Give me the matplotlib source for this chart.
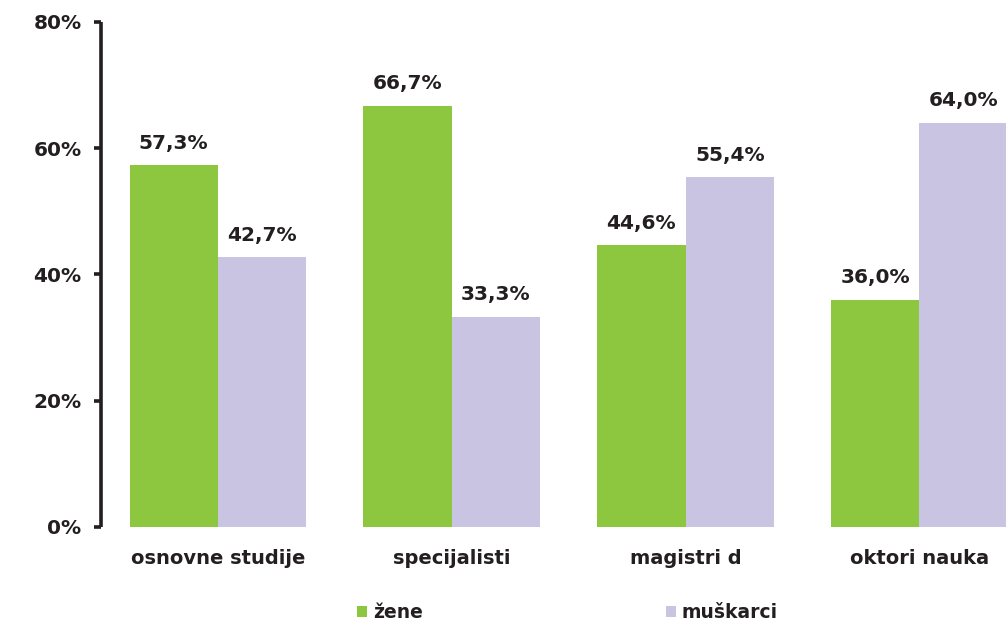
import matplotlib.pyplot as plt
import numpy as np

categories = ['osnovne studije', 'specijalisti', 'magistri d', 'oktori nauka']
zene = [57.3, 66.7, 44.6, 36.0]
muskarci = [42.7, 33.3, 55.4, 64.0]
series_names = ['žene', 'muškarci']
yticks = [0, 20, 40, 60, 80]

green = '#8DC63F'
purple = '#C8C4E2'
dark = '#231F20'

plt.rcParams['font.family'] = 'DejaVu Sans'
plt.rcParams['font.weight'] = 'bold'

fig = plt.figure(figsize=(10.06, 6.21), dpi=100)
ax = fig.add_axes([0.1004, 0.1514, 0.8996, 0.8132])

x = np.arange(len(categories))
w = 0.378
b1 = ax.bar(x - w / 2, zene, w, color=green, label=series_names[0])
b2 = ax.bar(x + w / 2, muskarci, w, color=purple, label=series_names[1])

def fmt(v):
    return f'{v:.1f}'.replace('.', ',') + '%'

# value labels above the bars
for bars, vals in [(b1, zene), (b2, muskarci)]:
    for r, v in zip(bars, vals):
        ax.annotate(fmt(v), (r.get_x() + r.get_width() / 2, v),
                    xytext=(0, 9), textcoords='offset points',
                    ha='center', va='bottom', fontsize=14.5,
                    fontweight='bold', color=dark)

ax.set_xlim(-0.5, 3.37)
ax.set_ylim(0, 80)
ax.set_yticks(yticks)
ax.set_yticklabels([f'{t}%' for t in yticks])
ax.set_xticks(x)
ax.set_xticklabels(categories)

for s in ['top', 'right', 'bottom']:
    ax.spines[s].set_visible(False)
ax.spines['left'].set_linewidth(2.6)
ax.spines['left'].set_color(dark)
ax.spines['left'].set_capstyle('butt')

ax.tick_params(axis='y', length=5, width=2.6, color=dark, pad=9,
               labelsize=14.5, labelcolor=dark)
ax.tick_params(axis='x', length=0, pad=16, labelsize=14, labelcolor=dark)
for lab in ax.get_xticklabels() + ax.get_yticklabels():
    lab.set_fontweight('bold')

fig.legend(handles=[b1, b2], labels=series_names, loc='center',
           bbox_to_anchor=(0.564, 0.013), ncol=2, frameon=False,
           fontsize=13.5, handlelength=0.55, handleheight=0.55,
           handletextpad=0.3, columnspacing=12.95, borderaxespad=0,
           labelcolor=dark)

fig.savefig('out.png', dpi=100)
